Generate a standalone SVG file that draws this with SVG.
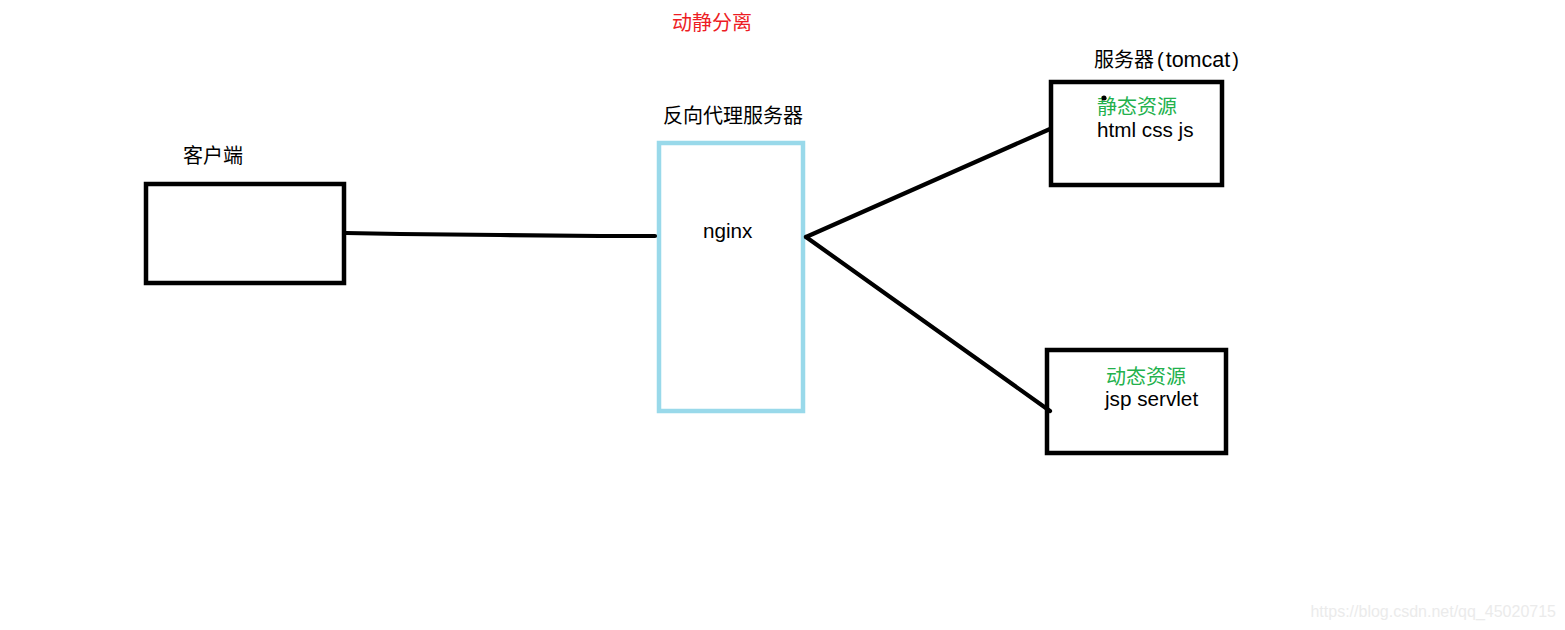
<svg xmlns="http://www.w3.org/2000/svg" width="1565" height="630" viewBox="0 0 1565 630">
<style>
.t{font-family:"Liberation Sans","Noto Sans CJK SC",sans-serif;font-size:20px;fill:#000}
.l{font-size:20.7px}
.red{fill:#ed1c24}
.green{fill:#22b14c}
.box{fill:none;stroke:#000;stroke-width:4.5}
.blue{fill:none;stroke:#99d9ea;stroke-width:4.5}
.line{fill:none;stroke:#000;stroke-width:4.2;stroke-linecap:round;stroke-linejoin:round}
.wm{font-family:"Liberation Sans",sans-serif;font-size:16px;fill:#ebebeb}
</style>
<rect width="1565" height="630" fill="#fff"/>
<text class="t red" x="672" y="30">动静分离</text>
<g id="client">
<text class="t" x="183" y="163">客户端</text>
<rect class="box" x="146" y="184" width="198" height="99"/>
</g>
<g id="nginx">
<text class="t" x="663" y="123">反向代理服务器</text>
<rect class="blue" x="659" y="143" width="144" height="268"/>
<text class="t l" x="703" y="238">nginx</text>
</g>
<g id="tomcat">
<text class="t" x="1094" y="67">服务器<tspan dx="3">(</tspan><tspan dx="2" font-size="21.5">tomcat</tspan><tspan dx="2">)</tspan></text>
<rect class="box" x="1051" y="82" width="171" height="103"/>
<text class="t green" x="1097" y="114">静态资源</text>
<circle cx="1104" cy="98" r="2.5" fill="#000"/>
<text class="t l" x="1097" y="137">html css js</text>
</g>
<g id="dynamic">
<rect class="box" x="1047" y="350" width="179" height="103"/>
<text class="t green" x="1106" y="384">动态资源</text>
<text class="t l" x="1105" y="406">jsp servlet</text>
</g>
<g id="connectors">
<polyline class="line" points="346,233 400,234 500,235 600,236 655,236"/>
<line class="line" x1="806" y1="237" x2="1050" y2="129"/>
<line class="line" x1="806" y1="237" x2="1050" y2="411"/>
</g>
<text class="wm" x="1556" y="617" text-anchor="end">https://blog.csdn.net/qq_45020715</text>
</svg>
